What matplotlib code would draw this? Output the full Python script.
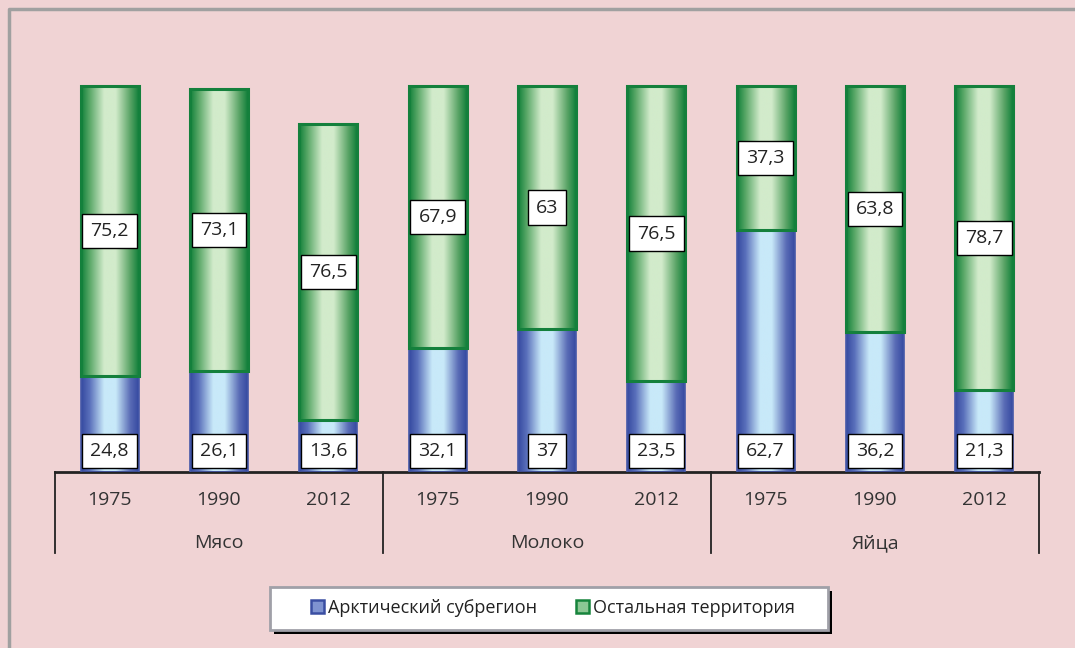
import numpy as np
import matplotlib.pyplot as plt
from matplotlib.colors import LinearSegmentedColormap
from matplotlib.patches import Rectangle
from matplotlib.lines import Line2D
import matplotlib.transforms as mtransforms

plt.rcParams['font.family'] = ['Open Sans', 'DejaVu Sans']

# ── data ───────────────────────────────────────────────────────────
groups = ['Мясо', 'Молоко', 'Яйца']
years = ['1975', '1990', '2012']
arctic = [24.8, 26.1, 13.6, 32.1, 37.0, 23.5, 62.7, 36.2, 21.3]
other = [75.2, 73.1, 76.5, 67.9, 63.0, 76.5, 37.3, 63.8, 78.7]
arctic_lbl = ['24,8', '26,1', '13,6', '32,1', '37', '23,5', '62,7', '36,2', '21,3']
other_lbl = ['75,2', '73,1', '76,5', '67,9', '63', '76,5', '37,3', '63,8', '78,7']
series_names = ['Арктический субрегион', 'Остальная территория']

BG = '#f0d3d4'
blue_cm = LinearSegmentedColormap.from_list(
    'b', [(0, '#3549a0'), (0.15, '#5a70bb'), (0.4, '#c8e9f9'),
          (0.6, '#c8e9f9'), (0.85, '#5a6cb6'), (1, '#3549a0')])
green_cm = LinearSegmentedColormap.from_list(
    'g', [(0, '#11803a'), (0.15, '#5aa868'), (0.4, '#d2ebcb'),
          (0.6, '#d2ebcb'), (0.85, '#5aa466'), (1, '#11803a')])

fig = plt.figure(figsize=(10.75, 6.48), dpi=100, facecolor=BG)
W, H = 1075, 648
ax = fig.add_axes([55 / W, 176 / H, 984 / W, 424.6 / H])
ax.set_facecolor('none')

x = np.arange(len(arctic))
bw = 0.53
b1 = ax.bar(x, arctic, bw, facecolor='none', edgecolor='#4558a8', lw=1.2, zorder=3)
b2 = ax.bar(x, other, bw, bottom=arctic, facecolor='none', edgecolor='#14803c',
            lw=2.2, zorder=3)

grad = np.linspace(0, 1, 256).reshape(1, -1)
for bars, cm in [(b1, blue_cm), (b2, green_cm)]:
    for p in bars:
        x0, y0 = p.get_x(), p.get_y()
        im = ax.imshow(grad, cmap=cm, aspect='auto', zorder=2,
                       extent=[x0, x0 + p.get_width(), y0, y0 + p.get_height()])
        im.set_clip_path(p)

ax.set_xlim(-0.5, len(arctic) - 0.5)
ax.set_ylim(0, 110)

box = dict(boxstyle='square,pad=0.42', fc='white', ec='black', lw=1)
for i in range(len(arctic)):
    ax.annotate(arctic_lbl[i], (x[i], 0), xytext=(0, 15), textcoords='offset points',
                ha='center', va='center', fontsize=14, color='#222222', bbox=box, zorder=5)
    ax.text(x[i], arctic[i] + other[i] / 2, other_lbl[i], ha='center', va='center',
            fontsize=14, color='#222222', bbox=box, zorder=5)

# axes / category labels
for s in ['top', 'right', 'left']:
    ax.spines[s].set_visible(False)
ax.spines['bottom'].set_linewidth(2)
ax.spines['bottom'].set_color('#222222')
ax.set_yticks([])
ax.set_xticks([])

trans = mtransforms.blended_transform_factory(ax.transData, ax.transAxes)
for i in range(len(arctic)):
    ax.text(x[i], -28 / 424.6, years[i % 3], transform=trans, ha='center', va='center',
            fontsize=14, color='#333333')
for g, name in enumerate(groups):
    ax.text(3 * g + 1, -71 / 424.6, name, transform=trans, ha='center', va='center',
            fontsize=14, color='#333333')
for k in range(len(groups) + 1):
    ax.plot([3 * k - 0.5] * 2, [0, -81 / 424.6], transform=trans, color='#222222',
            lw=1.3, clip_on=False)

# outer frame (top and left edges only)
fig.add_artist(Line2D([9 / W, 9 / W, 1], [0, 1 - 9 / H, 1 - 9 / H], color='#a0a0a0', lw=2.5))

# legend box with black shadow
fig.add_artist(Rectangle((274 / W, 1 - 634 / H), 558 / W, 43 / H, transform=fig.transFigure,
                         fc='black', ec='none'))
fig.add_artist(Rectangle((270 / W, 1 - 630 / H), 558 / W, 43 / H, transform=fig.transFigure,
                         fc='white', ec='#a0a0a8', lw=2))
handles = [Rectangle((0, 0), 1, 1, fc='#7f93d0', ec='#3a4ea2', lw=1.8),
           Rectangle((0, 0), 1, 1, fc='#8cc794', ec='#16843c', lw=1.8)]
fig.legend(handles, series_names, loc='center', bbox_to_anchor=(553 / W, 1 - 608 / H),
           ncol=2, frameon=False, fontsize=13, handlelength=0.72, handleheight=0.72,
           handletextpad=0.22, columnspacing=2.2, labelcolor='#222222')

fig.savefig('out.png', dpi=100, facecolor=BG)
